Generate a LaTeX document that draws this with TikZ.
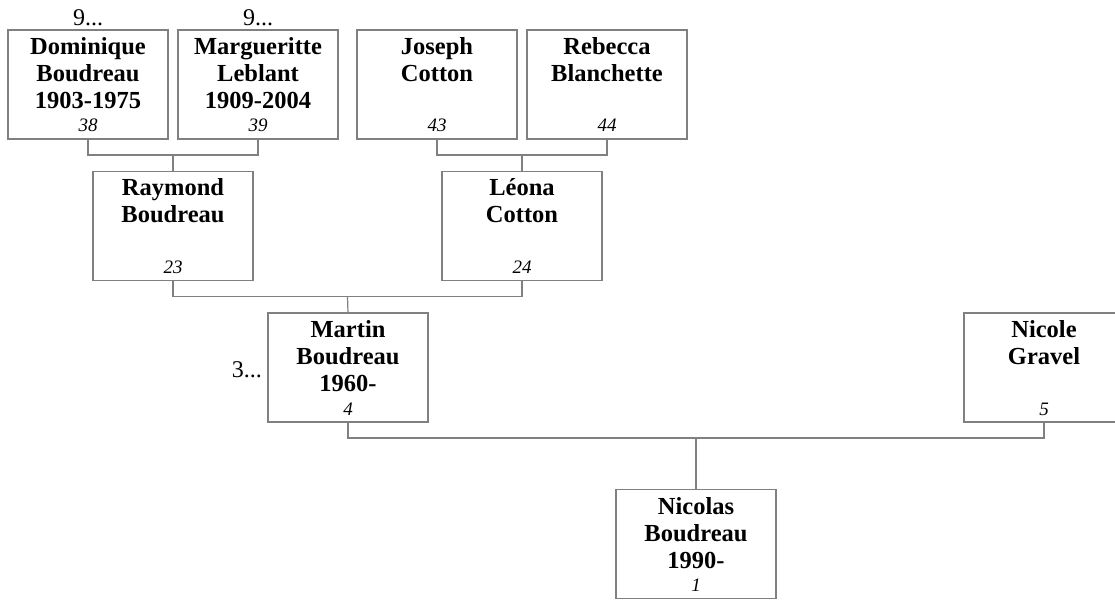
\documentclass[tikz,border=0pt]{standalone}
\usepackage{fontspec}
\setmainfont{Liberation Serif}
\usetikzlibrary{calc}
\definecolor{linegray}{RGB}{128,128,128}
\begin{document}
\begin{tikzpicture}[x=1pt,y=-1pt,
  pbox/.style={draw=linegray, line width=1.2pt, minimum width=160pt, minimum height=109pt, inner sep=0pt, outer sep=0pt},
  nametext/.style={anchor=base, inner sep=0pt, font=\fontsize{24.5}{27}\selectfont\bfseries},
  numtext/.style={anchor=base, inner sep=0pt, font=\fontsize{19}{21}\selectfont\itshape},
  moretext/.style={inner sep=0pt, font=\fontsize{24}{26}\selectfont},
  conn/.style={draw=linegray, line width=1.2pt}]
\useasboundingbox (0,0) rectangle (1115,601);
\clip (0,0) rectangle (1115,601);
% boxes
\node[pbox] (dom) at (88,84.5) {};
\node[pbox] (mar) at (258,84.5) {};
\node[pbox] (jos) at (437,84.5) {};
\node[pbox] (reb) at (607,84.5) {};
\node[pbox] (ray) at (173,226) {};
\node[pbox] (leo) at (522,226) {};
\node[pbox] (mart) at (348,367.5) {};
\node[pbox] (nico) at (1044,367.5) {};
\node[pbox] (nics) at (696,544) {};
% names
\newcommand{\pname}[2]{\node[nametext] (#1-name) at ([yshift=-24.5pt]#1.north) {\begin{tabular}[t]{@{}c@{}}#2\end{tabular}};}
\pname{dom}{Dominique\\Boudreau\\1903-1975}
\pname{mar}{Margueritte\\Leblant\\1909-2004}
\pname{jos}{Joseph\\Cotton}
\pname{reb}{Rebecca\\Blanchette}
\pname{ray}{Raymond\\Boudreau}
\pname{leo}{Léona\\Cotton}
\pname{mart}{Martin\\Boudreau\\1960-\hspace{7pt}}
\pname{nico}{Nicole\\Gravel}
\pname{nics}{Nicolas\\Boudreau\\1990-}
% numbers
\node[numtext] (dom-num) at ([yshift=7pt]dom.south) {38};
\node[numtext] (mar-num) at ([yshift=7pt]mar.south) {39};
\node[numtext] (jos-num) at ([yshift=7pt]jos.south) {43};
\node[numtext] (reb-num) at ([yshift=7pt]reb.south) {44};
\node[numtext] (ray-num) at ([yshift=7pt]ray.south) {23};
\node[numtext] (leo-num) at ([yshift=7pt]leo.south) {24};
\node[numtext] (mart-num) at ([yshift=7pt]mart.south) {4};
\node[numtext] (nico-num) at ([yshift=7pt]nico.south) {5};
\node[numtext] (nics-num) at ([yshift=7pt]nics.south) {1};
% more
\node[moretext, anchor=base] (dom-more) at ([yshift=4pt]dom.north) {9...};
\node[moretext, anchor=base] (mar-more) at ([yshift=4pt]mar.north) {9...};
\node[moretext, anchor=base east] (mart-more) at (262,377) {3...};
% connectors
\draw[conn] (dom.south) -- ++(0,16) -| (mar.south);
\coordinate (c1) at ($(dom.south)!0.5!(mar.south)+(0,16)$);
\draw[conn] (c1) -- (ray.north);
\draw[conn] (jos.south) -- ++(0,16) -| (reb.south);
\coordinate (c2) at ($(jos.south)!0.5!(reb.south)+(0,16)$);
\draw[conn] (c2) -- (leo.north);
\draw[conn] (ray.south) -- ++(0,16) -| (leo.south);
\coordinate (c3) at ($(ray.south)!0.5!(leo.south)+(0,16)$);
\draw[conn] (c3) -- (mart.north);
\draw[conn] (mart.south) -- ++(0,16) -| (nico.south);
\coordinate (c4) at ($(mart.south)!0.5!(nico.south)+(0,16)$);
\draw[conn] (c4) -- (nics.north);
\end{tikzpicture}
\end{document}
